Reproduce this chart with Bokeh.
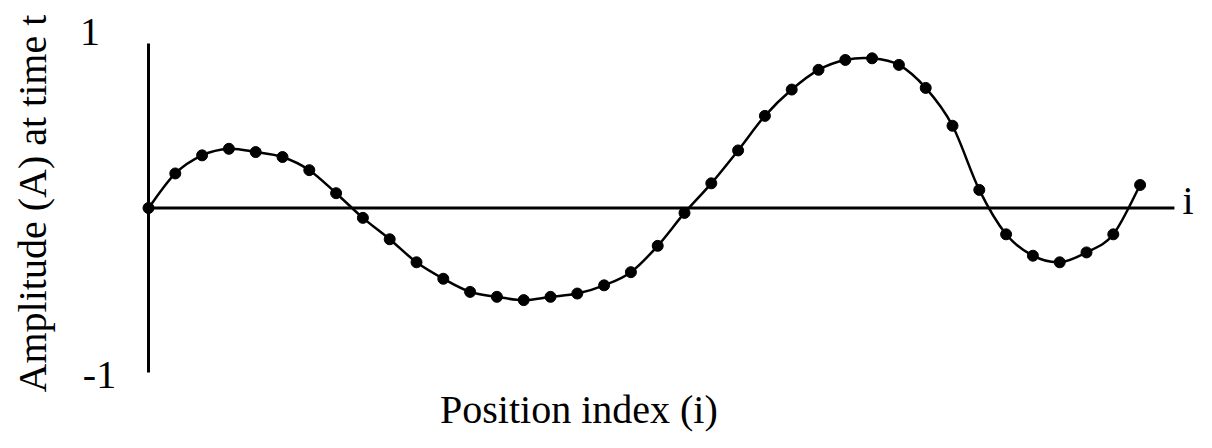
from bokeh.plotting import figure
from bokeh.models import Range1d, Label
from bokeh.embed import file_html
from bokeh.resources import INLINE

# Data: position index and amplitude at time t
position = list(range(38))
amplitude = [0.00, 0.21, 0.32, 0.36, 0.34, 0.31, 0.23, 0.09, -0.06, -0.19,
             -0.33, -0.43, -0.51, -0.54, -0.56, -0.54, -0.52, -0.47, -0.39, -0.23,
             -0.03, 0.15, 0.35, 0.56, 0.72, 0.84, 0.90, 0.91, 0.87, 0.73,
             0.50, 0.11, -0.16, -0.29, -0.33, -0.27, -0.16, 0.14]

y_tick_labels = ["1", "-1"]
x_title = "Position index (i)"
y_title = "Amplitude (A) at time t"
x_axis_name = "i"

FONT = "Liberation Serif"
FS = "40px"

p = figure(width=1196, height=432, output_backend="svg", toolbar_location=None,
           x_range=Range1d(-5.5224, 39.104), y_range=Range1d(-1.3647, 1.2614),
           min_border=0, min_border_left=0, min_border_right=0,
           min_border_top=0, min_border_bottom=0)
p.xaxis.visible = False
p.yaxis.visible = False
p.xgrid.visible = False
p.ygrid.visible = False
p.outline_line_color = None
p.background_fill_color = "white"
p.border_fill_color = "white"

# hand-drawn style axes
p.segment(x0=[0, 0], y0=[-1, 0], x1=[0, 38.28], y1=[1, 0], line_color="black", line_width=3)

# smooth curve through the samples (Catmull-Rom segments rendered as Bezier)
n = len(position)
x0, y0, x1, y1, cx0, cy0, cx1, cy1 = [], [], [], [], [], [], [], []
for k in range(n - 1):
    xa, ya = position[k], amplitude[k]
    xb, yb = position[k + 1], amplitude[k + 1]
    xp, yp = (position[k - 1], amplitude[k - 1]) if k > 0 else (xa, ya)
    xn, yn = (position[k + 2], amplitude[k + 2]) if k + 2 < n else (xb, yb)
    x0.append(xa); y0.append(ya); x1.append(xb); y1.append(yb)
    cx0.append(xa + (xb - xp) / 6.0); cy0.append(ya + (yb - yp) / 6.0)
    cx1.append(xb - (xn - xa) / 6.0); cy1.append(yb - (yn - ya) / 6.0)
p.bezier(x0=x0, y0=y0, x1=x1, y1=y1, cx0=cx0, cy0=cy0, cx1=cx1, cy1=cy1,
         line_color="black", line_width=2.5)
p.scatter(position, amplitude, size=11, fill_color="black", line_color="black")

# labels
common = dict(text_font=FONT, text_font_size=FS, text_baseline="alphabetic", text_color="black")
p.add_layout(Label(x=-2.183, y=1.067, text=y_tick_labels[0], text_align="center", **common))
p.add_layout(Label(x=-1.828, y=-1.018, text=y_tick_labels[1], text_align="center", **common))
p.add_layout(Label(x=38.58, y=0.046, text=x_axis_name, text_align="left", **common))
p.add_layout(Label(x=16.06, y=-1.225, text=x_title, text_align="center", **common))
p.add_layout(Label(x=-4.328, y=0.027, text=y_title, angle=1.5708, text_align="center", **common))

open("out.html", "w").write(file_html(p, INLINE))
